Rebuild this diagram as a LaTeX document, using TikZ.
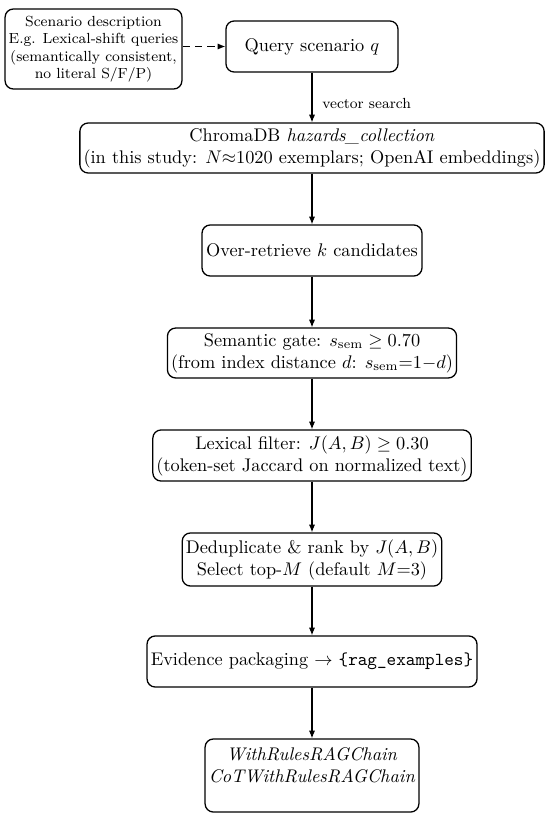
\documentclass[tikz,border=0pt]{standalone}
\usetikzlibrary{arrows.meta}
\tikzset{
  box/.style={draw, line width=0.7pt, rounded corners=4.5pt, align=center, inner sep=2pt, font=\normalsize},
  conn/.style={line width=0.6pt, -{Latex[length=4.2pt,width=3.4pt]}},
  dashconn/.style={conn, dash pattern=on 4pt off 2.8pt},
}
\begin{document}
\begin{tikzpicture}[x=0.5464pt, y=-0.5464pt]
\useasboundingbox (0,0) rectangle (550,821);
\node[box, font=\footnotesize, minimum width=95.6pt, minimum height=43.7pt] (scen) at (93.5,49)
  {Scenario description\\E.g. Lexical-shift queries\\(semantically consistent,\\no literal S/F/P)};
\node[box, minimum width=94pt, minimum height=27.9pt] (query) at (312,46.5) {Query scenario $q$};
\node[box, minimum width=251.3pt, minimum height=27.3pt] (chroma) at (312,148)
  {ChromaDB \textit{hazards\_collection}\\(in this study: $N{\approx}1020$ exemplars; OpenAI embeddings)};
\node[box, minimum width=120.2pt, minimum height=27.9pt] (over) at (312,250.5) {Over-retrieve $k$ candidates};
\node[box, minimum width=156.3pt, minimum height=27.3pt] (sem) at (312,353)
  {Semantic gate: $s_{\mathrm{sem}} \geq 0.70$\\(from index distance $d$: $s_{\mathrm{sem}}{=}1{-}d$)};
\node[box, minimum width=170.5pt, minimum height=27.9pt] (lex) at (312,455.5)
  {Lexical filter: $J(A,B) \geq 0.30$\\(token-set Jaccard on normalized text)};
\node[box, minimum width=138.8pt, minimum height=29pt] (dedup) at (312,559.5)
  {Deduplicate \& rank by $J(A,B)$\\Select top-$M$ (default $M{=}3$)};
\node[box, minimum width=180.3pt, minimum height=27.9pt] (evid) at (312,661.5)
  {Evidence packaging $\rightarrow$ \texttt{\{rag\_examples\}}};
\node[box, minimum width=109.3pt, minimum height=39.9pt] (final) at (312,775.5)
  {\textit{WithRulesRAGChain}\\\textit{CoTWithRulesRAGChain}\\\mbox{}};
\draw[dashconn] (scen.east |- query.west) -- (query.west);
\draw[conn] (query) -- node[right, pos=0.62, font=\footnotesize, xshift=2pt] {vector search} (chroma);
\draw[conn] (chroma) -- (over);
\draw[conn] (over) -- (sem);
\draw[conn] (sem) -- (lex);
\draw[conn] (lex) -- (dedup);
\draw[conn] (dedup) -- (evid);
\draw[conn] (evid) -- (final);
\end{tikzpicture}
\end{document}
